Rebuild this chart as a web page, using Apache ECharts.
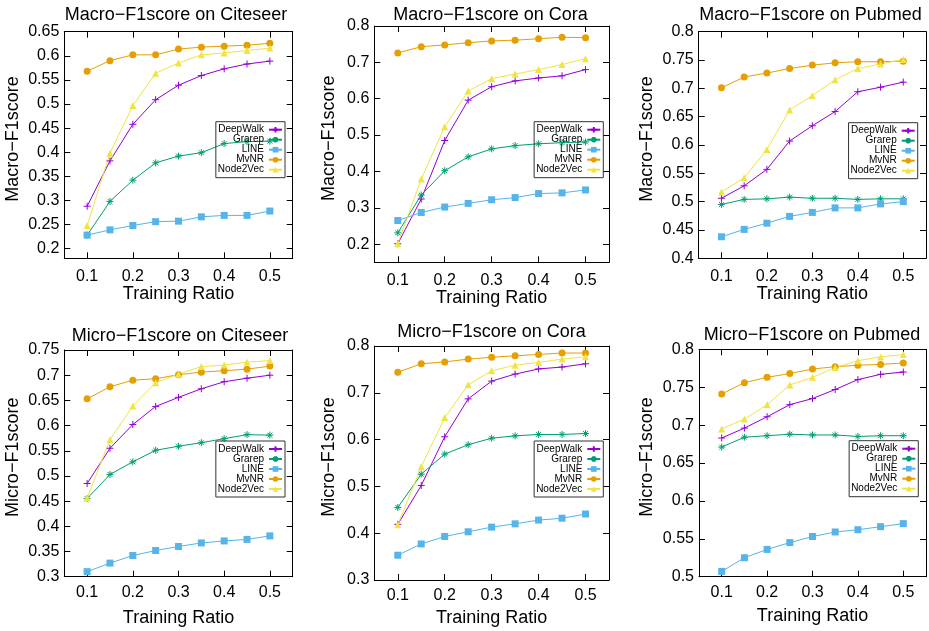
<!DOCTYPE html>
<html>
<head>
<meta charset="utf-8">
<script src="https://cdn.jsdelivr.net/npm/echarts@6/dist/echarts.min.js"></script>
<style>
html, body { margin:0; padding:0; background:#fff; }
#main { width:929px; height:631px; }
</style>
</head>
<body>
<div id="main"></div>
<script>
// x values and method names
var ratios  = [0.1, 0.15, 0.2, 0.25, 0.3, 0.35, 0.4, 0.45, 0.5];
var methods = ['DeepWalk', 'Grarep', 'LINE', 'MvNR', 'Node2Vec'];
var xTicks  = [0.1, 0.2, 0.3, 0.4, 0.5];

// Macro-F1 on Citeseer
var macroCiteseerDeepWalk = [0.288, 0.382, 0.458, 0.509, 0.539, 0.559, 0.573, 0.583, 0.589];
var macroCiteseerGrarep   = [0.228, 0.298, 0.342, 0.378, 0.392, 0.399, 0.418, 0.422, 0.423];
var macroCiteseerLINE     = [0.228, 0.239, 0.248, 0.256, 0.257, 0.266, 0.269, 0.269, 0.278];
var macroCiteseerMvNR     = [0.568, 0.590, 0.602, 0.602, 0.614, 0.618, 0.620, 0.622, 0.626];
var macroCiteseerNode2Vec = [0.248, 0.398, 0.497, 0.564, 0.585, 0.602, 0.606, 0.611, 0.616];
var macroCiteseerTicks    = [0.2, 0.25, 0.3, 0.35, 0.4, 0.45, 0.5, 0.55, 0.6, 0.65];

// Macro-F1 on Cora
var macroCoraDeepWalk = [0.201, 0.324, 0.485, 0.596, 0.633, 0.649, 0.657, 0.663, 0.680];
var macroCoraGrarep   = [0.231, 0.335, 0.402, 0.440, 0.462, 0.471, 0.476, 0.479, 0.481];
var macroCoraLINE     = [0.265, 0.287, 0.302, 0.312, 0.322, 0.328, 0.339, 0.341, 0.349];
var macroCoraMvNR     = [0.726, 0.743, 0.748, 0.754, 0.759, 0.761, 0.765, 0.769, 0.768];
var macroCoraNode2Vec = [0.201, 0.379, 0.523, 0.621, 0.655, 0.668, 0.680, 0.694, 0.710];
var macroCoraTicks    = [0.2, 0.3, 0.4, 0.5, 0.6, 0.7, 0.8];

// Macro-F1 on Pubmed
var macroPubmedDeepWalk = [0.506, 0.528, 0.557, 0.607, 0.634, 0.659, 0.694, 0.702, 0.711];
var macroPubmedGrarep   = [0.495, 0.504, 0.505, 0.508, 0.506, 0.506, 0.504, 0.505, 0.505];
var macroPubmedLINE     = [0.438, 0.451, 0.462, 0.474, 0.481, 0.489, 0.489, 0.496, 0.500];
var macroPubmedMvNR     = [0.701, 0.720, 0.727, 0.735, 0.741, 0.745, 0.747, 0.747, 0.748];
var macroPubmedNode2Vec = [0.517, 0.542, 0.592, 0.662, 0.687, 0.715, 0.735, 0.743, 0.751];
var macroPubmedTicks    = [0.4, 0.45, 0.5, 0.55, 0.6, 0.65, 0.7, 0.75, 0.8];

// Micro-F1 on Citeseer
var microCiteseerDeepWalk = [0.485, 0.555, 0.602, 0.638, 0.656, 0.673, 0.687, 0.694, 0.700];
var microCiteseerGrarep   = [0.455, 0.503, 0.528, 0.551, 0.559, 0.566, 0.574, 0.582, 0.581];
var microCiteseerLINE     = [0.310, 0.327, 0.342, 0.352, 0.360, 0.367, 0.371, 0.374, 0.381];
var microCiteseerMvNR     = [0.653, 0.677, 0.690, 0.693, 0.701, 0.706, 0.709, 0.712, 0.718];
var microCiteseerNode2Vec = [0.456, 0.572, 0.639, 0.685, 0.702, 0.717, 0.720, 0.726, 0.729];
var microCiteseerTicks    = [0.3, 0.35, 0.4, 0.45, 0.5, 0.55, 0.6, 0.65, 0.7, 0.75];

// Micro-F1 on Cora
var microCoraDeepWalk = [0.419, 0.502, 0.606, 0.687, 0.725, 0.740, 0.751, 0.755, 0.762];
var microCoraGrarep   = [0.455, 0.526, 0.569, 0.589, 0.603, 0.608, 0.611, 0.611, 0.613];
var microCoraLINE     = [0.353, 0.377, 0.393, 0.403, 0.413, 0.420, 0.428, 0.432, 0.441];
var microCoraMvNR     = [0.744, 0.762, 0.766, 0.772, 0.776, 0.779, 0.782, 0.785, 0.785];
var microCoraNode2Vec = [0.418, 0.542, 0.647, 0.717, 0.747, 0.759, 0.765, 0.772, 0.777];
var microCoraTicks    = [0.3, 0.4, 0.5, 0.6, 0.7, 0.8];

// Micro-F1 on Pubmed
var microPubmedDeepWalk = [0.683, 0.696, 0.711, 0.727, 0.735, 0.747, 0.760, 0.767, 0.770];
var microPubmedGrarep   = [0.671, 0.684, 0.686, 0.688, 0.687, 0.687, 0.685, 0.686, 0.686];
var microPubmedLINE     = [0.507, 0.525, 0.536, 0.545, 0.553, 0.559, 0.562, 0.566, 0.570];
var microPubmedMvNR     = [0.741, 0.756, 0.763, 0.768, 0.774, 0.777, 0.779, 0.780, 0.782];
var microPubmedNode2Vec = [0.695, 0.708, 0.727, 0.753, 0.763, 0.776, 0.785, 0.790, 0.793];
var microPubmedTicks    = [0.5, 0.55, 0.6, 0.65, 0.7, 0.75, 0.8];

// gnuplot style per method
var colors = ['#9400d3', '#009e73', '#56b4e9', '#e69f00', '#f0e442'];
var symbols = [
    'path://M0,5L10,5M5,0L5,10',
    'path://M0,5L10,5M5,0L5,10M1.5,1.5L8.5,8.5M1.5,8.5L8.5,1.5',
    'rect', 'circle', 'triangle'
];
var symbolSizes = [7, 7, 7, 7, 7];

var W = 929;
var font = 'Liberation Sans, Arial, Helvetica, sans-serif';

var panels = [
    {title:'Macro−F1score on Citeseer', yName:'Macro−F1score', yMin:0.18, yMax:0.65, yTicks:macroCiteseerTicks,
     data:[macroCiteseerDeepWalk, macroCiteseerGrarep, macroCiteseerLINE, macroCiteseerMvNR, macroCiteseerNode2Vec],
     box:[64.3, 31.7, 292.7, 258.3], titleX:176, titleY:6, legend:[285, 121.7], xMargin:10, xNameGap:26, yNameGap:42},
    {title:'Macro−F1score on Cora', yName:'Macro−F1score', yMin:0.15, yMax:0.8, yTicks:macroCoraTicks,
     data:[macroCoraDeepWalk, macroCoraGrarep, macroCoraLINE, macroCoraMvNR, macroCoraNode2Vec],
     box:[374.3, 26, 609, 262.3], titleX:490.5, titleY:6, legend:[603.3, 121.7], xMargin:10, xNameGap:26, yNameGap:36},
    {title:'Macro−F1score on Pubmed', yName:'Macro−F1score', yMin:0.4, yMax:0.8, yTicks:macroPubmedTicks,
     data:[macroPubmedDeepWalk, macroPubmedGrarep, macroPubmedLINE, macroPubmedMvNR, macroPubmedNode2Vec],
     box:[698.7, 31.7, 926, 258.3], titleX:810.5, titleY:6, legend:[917.7, 122.7], xMargin:10, xNameGap:26, yNameGap:43},
    {title:'Micro−F1score on Citeseer', yName:'Micro−F1score', yMin:0.3, yMax:0.75, yTicks:microCiteseerTicks,
     data:[microCiteseerDeepWalk, microCiteseerGrarep, microCiteseerLINE, microCiteseerMvNR, microCiteseerNode2Vec],
     box:[64.3, 350, 292.7, 576.7], titleX:180, titleY:327, legend:[285, 441], xMargin:8, xNameGap:32, yNameGap:42},
    {title:'Micro−F1score on Cora', yName:'Micro−F1score', yMin:0.3, yMax:0.8, yTicks:microCoraTicks,
     data:[microCoraDeepWalk, microCoraGrarep, microCoraLINE, microCoraMvNR, microCoraNode2Vec],
     box:[374.3, 346, 609, 580], titleX:491.5, titleY:323.5, legend:[603.3, 441], xMargin:8, xNameGap:29, yNameGap:36},
    {title:'Micro−F1score on Pubmed', yName:'Micro−F1score', yMin:0.5, yMax:0.8, yTicks:microPubmedTicks,
     data:[microPubmedDeepWalk, microPubmedGrarep, microPubmedLINE, microPubmedMvNR, microPubmedNode2Vec],
     box:[699, 349.3, 926, 576.7], titleX:812, titleY:326, legend:[918.3, 440.7], xMargin:8, xNameGap:30, yNameGap:43}
];

var option = {
    backgroundColor:'#fff',
    animation:false,
    title:[], legend:[], grid:[], xAxis:[], yAxis:[], series:[]
};

var tickStyle = {color:'#000', width:1};
var labelStyle = {color:'#000', fontSize:16, fontFamily:font};
var nameStyle = {color:'#000', fontSize:18, fontFamily:font};

panels.forEach(function(p, i)
{
    var b = p.box;
    option.grid.push({left:b[0], top:b[1], width:b[2]-b[0], height:b[3]-b[1], containLabel:false});

    option.title.push({
        text:p.title, left:p.titleX, top:p.titleY, textAlign:'center', padding:0,
        textStyle:{color:'#000', fontSize:18, fontWeight:'normal', fontFamily:font}
    });

    option.legend.push({
        data:methods, orient:'vertical', align:'right',
        right:W-p.legend[0], top:p.legend[1],
        itemWidth:13, itemHeight:7, itemGap:0, padding:[3,2,3,2],
        borderColor:'#333', borderWidth:1, backgroundColor:'transparent',
        textStyle:{color:'#000', fontSize:10, lineHeight:8, fontFamily:font},
        selectedMode:false
    });

    // bottom / left axes with labels, top / right mirrors with ticks only
    [false, true].forEach(function(mirror)
    {
        option.xAxis.push({
            type:'value', gridIndex:i, min:0.05, max:0.55, position:mirror ? 'top' : 'bottom',
            axisLine:{show:true, onZero:false, lineStyle:tickStyle},
            axisTick:{show:true, inside:true, length:6, customValues:xTicks, lineStyle:tickStyle},
            axisLabel:{show:!mirror, customValues:xTicks, margin:p.xMargin, color:'#000', fontSize:16, fontFamily:font},
            splitLine:{show:false},
            name:mirror ? '' : 'Training Ratio', nameLocation:'middle', nameGap:p.xNameGap, nameTextStyle:nameStyle
        });
        option.yAxis.push({
            type:'value', gridIndex:i, min:p.yMin, max:p.yMax, position:mirror ? 'right' : 'left',
            axisLine:{show:true, onZero:false, lineStyle:tickStyle},
            axisTick:{show:true, inside:true, length:6, customValues:p.yTicks, lineStyle:tickStyle},
            axisLabel:{show:!mirror, customValues:p.yTicks, margin:5, color:'#000', fontSize:16, fontFamily:font},
            splitLine:{show:false},
            name:mirror ? '' : p.yName, nameLocation:'middle', nameGap:p.yNameGap,
            nameTextStyle:Object.assign({padding:[0,0,0,12]}, nameStyle)
        });
    });

    p.data.forEach(function(values, k)
    {
        var filled = k >= 2;
        option.series.push({
            name:methods[k], type:'line',
            xAxisIndex:i*2, yAxisIndex:i*2,
            data:ratios.map(function(r, j){ return [r, values[j]]; }),
            symbol:symbols[k], symbolSize:symbolSizes[k], showSymbol:true, showAllSymbol:true,
            lineStyle:{color:colors[k], width:1},
            itemStyle:{color:colors[k], borderColor:colors[k], borderWidth:filled ? 0 : 1, opacity:1},
            emphasis:{disabled:true}
        });
    });
});

echarts.init(document.getElementById('main'), null, {renderer:'canvas'}).setOption(option);
</script>
</body>
</html>
